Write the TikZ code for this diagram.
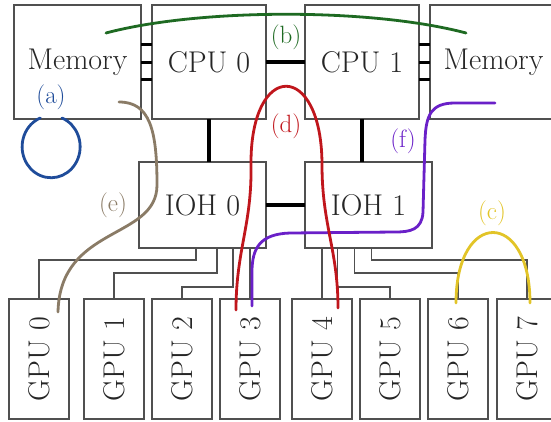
\documentclass[tikz,border=0pt]{standalone}
\usepackage{graphicx}
\usepackage{tikz}
\usetikzlibrary{positioning,calc}
\definecolor{BoxGray}{HTML}{505050}
\definecolor{LinkA}{HTML}{1F4C9A}
\definecolor{LinkB}{HTML}{1E6A22}
\definecolor{LinkC}{HTML}{E2C428}
\definecolor{LinkD}{HTML}{C0161C}
\definecolor{LinkE}{HTML}{8A7B66}
\definecolor{LinkF}{HTML}{6A20C8}

\begin{document}
\begin{tikzpicture}[
      x=1pt, y=-1pt,
      font=\fontsize{30}{36}\selectfont,
      box/.style={
        draw=BoxGray, line width=1.5pt, fill=white, text=black!85,
        inner sep=0pt, outer sep=0pt, align=center
      },
      gpubox/.style={box, minimum width=60pt, minimum height=120pt},
      link/.style={line width=3.5pt, black},
      bus/.style={line width=1.4pt, draw=BoxGray},
      route/.style={line width=2.8pt, line cap=round},
      tag/.style={font=\fontsize{25}{30}\selectfont, inner sep=0pt}
    ]
      \useasboundingbox (0,0) rectangle (551,421);
      \clip (0,0) rectangle (551,421);

      \node[box, minimum width=127pt, minimum height=114pt] (memL) at (77.5,62) {Memory};
      \node[box, minimum width=114pt, minimum height=114pt, right=11pt of memL] (cpu0) {CPU 0};
      \node[box, minimum width=114pt, minimum height=114pt, right=39pt of cpu0] (cpu1) {CPU 1};
      \node[box, minimum width=127pt, minimum height=114pt, right=11pt of cpu1] (memR) {Memory};
      \node[box, minimum width=127pt, minimum height=86pt, below left=43pt and 0pt of cpu0.south east] (ioh0) {IOH 0};
      \node[box, minimum width=127pt, minimum height=86pt, below right=43pt and 0pt of cpu1.south west] (ioh1) {IOH 1};

      \node[gpubox] (gpu0) at (39,359) {\rotatebox{90}{GPU 0}};
      \node[gpubox, right=15pt of gpu0] (gpu1) {\rotatebox{90}{GPU 1}};
      \node[gpubox, right=8pt of gpu1] (gpu2) {\rotatebox{90}{GPU 2}};
      \node[gpubox, right=8pt of gpu2] (gpu3) {\rotatebox{90}{GPU 3}};
      \node[gpubox, right=12pt of gpu3] (gpu4) {\rotatebox{90}{GPU 4}};
      \node[gpubox, right=8pt of gpu4] (gpu5) {\rotatebox{90}{GPU 5}};
      \node[gpubox, right=8pt of gpu5] (gpu6) {\rotatebox{90}{GPU 6}};
      \node[gpubox, right=9pt of gpu6] (gpu7) {\rotatebox{90}{GPU 7}};

      % memory channels and QPI links
      \foreach \dy in {-17.5,0,17.5} {
        \draw[line width=3pt] ([yshift=\dy pt]memL.east) -- ([yshift=\dy pt]cpu0.west);
        \draw[line width=3pt] ([yshift=\dy pt]cpu1.east) -- ([yshift=\dy pt]memR.west);
      }
      \draw[link] (cpu0) -- (cpu1);
      \draw[link] (cpu0.south) -- (cpu0.south |- ioh0.north);
      \draw[link] (cpu1.south) -- (cpu1.south |- ioh1.north);
      \draw[link] (ioh0) -- (ioh1);

      % PCIe lanes
      \draw[bus] ([xshift=-6.5pt]ioh0.south) -- ++(0,12) -| (gpu0.north);
      \draw[bus] ([xshift=14.5pt]ioh0.south) -- ++(0,25) -| (gpu1.north);
      \draw[bus] ([xshift=30.5pt]ioh0.south) -- ++(0,39) -| (gpu2.north);
      \draw[bus] (gpu3.north) -- (gpu3.north |- ioh0.south);
      \draw[bus] (gpu4.north) -- (gpu4.north |- ioh1.south);
      \draw[bus] ([xshift=-31pt]ioh1.south) -- ++(0,39) -| (gpu5.north);
      \draw[bus] ([xshift=-14pt]ioh1.south) -- ++(0,25) -| (gpu6.north);
      \draw[bus] ([xshift=3pt]ioh1.south) -- ++(0,12) -| (gpu7.north);

      % transfer paths
      \coordinate (aS) at (62,118);
      \coordinate (bS) at (106,33);
      \coordinate (bE) at (466,33);
      \coordinate (cS) at (456,303);
      \coordinate (cE) at (530,303);
      \coordinate (dS) at (236,310);
      \coordinate (dE) at (338,308);
      \coordinate (eS) at (119,102);
      \coordinate (eE) at (58,312);
      \coordinate (fS) at (495,103);
      \coordinate (fE) at (252,306);

      \draw[route, LinkA] (aS) arc[start angle=-68, end angle=248, x radius=29, y radius=31];
      \draw[route, LinkB] (bS) .. controls (200,8) and (372,8) .. (bE);
      \draw[route, LinkC] (cS) .. controls (456,209) and (530,209) .. (cE);
      \draw[route, LinkE] (eS) .. controls (150,102) and (157,130) .. (157,185)
        .. controls (157,240) and (60,225) .. (eE);
      \draw[route, LinkF] (fS) -- (455,103) .. controls (431,103) and (426,115) .. (425,140)
        -- (423,212) .. controls (422,230) and (410,232) .. (395,232)
        -- (290,233) .. controls (260,234) and (252,248) .. (252,272) -- (fE);
      \draw[route, LinkD] (dS) .. controls (236,250) and (252,225) .. (251,165)
        .. controls (250,60) and (322,60) .. (322,165)
        .. controls (322,225) and (338,250) .. (dE);

      \node[tag, text=LinkA] (labA) at (51,97) {(a)};
      \node[tag, text=LinkB] (labB) at (286,37) {(b)};
      \node[tag, text=LinkC] (labC) at (492,213) {(c)};
      \node[tag, text=LinkD] (labD) at (286,126) {(d)};
      \node[tag, text=LinkE] (labE) at (113,205) {(e)};
      \node[tag, text=LinkF] (labF) at (403,141) {(f)};
    \end{tikzpicture}
\end{document}
